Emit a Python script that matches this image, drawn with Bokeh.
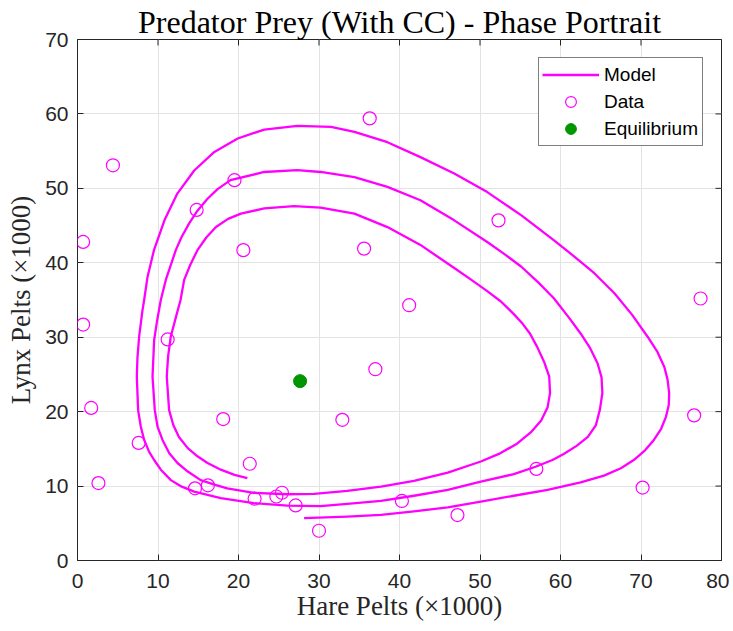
import math
from bokeh.plotting import figure
from bokeh.models import Range1d, FixedTicker, Legend, LegendItem
from bokeh.embed import file_html
from bokeh.resources import INLINE

# ---- data ----
hare = [30.0, 47.2, 70.2, 77.4, 36.3, 20.6, 18.1, 21.4, 22.0, 25.4, 27.1, 40.3, 57.0,
        76.6, 52.3, 19.5, 11.2, 7.6, 14.6, 16.2, 24.7, 0.7, 0.7, 1.7, 2.6, 4.4, 14.8,
        35.6, 32.9, 37.0, 41.2]
lynx = [4.0, 6.1, 9.8, 35.2, 59.4, 41.7, 19.0, 13.0, 8.3, 9.1, 7.4, 8.0, 12.3,
        19.5, 45.7, 51.1, 29.7, 15.8, 9.7, 10.1, 8.6, 42.8, 31.7, 20.5, 10.4, 53.1, 47.1,
        41.9, 18.9, 25.7, 34.3]

eq_hare = [27.65]
eq_lynx = [24.1]

# model trajectory (inward spiral), (hare, lynx) points
model_points = [
    # first (outer) turn
    (28.15, 5.7), (33.5, 5.9), (37.7, 6.13), (41.8, 6.6), (46.0, 7.15), (50.1, 7.9),
    (54.2, 8.7), (58.4, 9.5), (62.5, 10.5), (65.4, 11.4), (67.5, 12.4), (69.1, 13.5),
    (70.5, 14.8), (71.6, 16.2), (72.5, 17.7), (73.1, 19.3), (73.45, 20.9), (73.5, 22.5),
    (73.3, 24.3), (72.9, 26.0), (72.0, 28.1), (70.8, 30.1), (68.9, 33.0), (66.7, 35.9),
    (64.2, 38.6), (61.3, 41.2), (59.2, 43.0), (55.1, 46.4), (50.9, 49.5), (46.8, 52.0),
    (42.6, 54.2), (38.5, 56.2), (34.4, 57.6), (31.5, 58.25), (27.3, 58.4), (23.2, 57.9),
    (19.9, 56.7), (17.0, 54.9), (14.5, 52.4), (12.4, 49.3), (10.8, 45.7), (9.5, 41.7),
    (8.7, 38.1), (8.28, 35.0), (8.07, 33.6), (7.66, 30.1), (7.45, 27.3), (7.37, 24.7),
    (7.53, 20.2), (7.86, 18.0), (8.28, 16.2), (8.9, 14.6), (9.52, 13.5), (10.35, 12.2),
    (11.6, 10.8), (12.8, 10.0), (14.5, 9.26), (17.8, 8.37), (21.9, 7.7), (26.1, 7.38),
    (30.2, 7.3), (33.5, 7.6), (37.7, 8.0), (41.8, 8.7), (46.0, 9.5), (50.1, 10.6),
    (54.2, 11.6),
    # second (middle) turn
    (56.9, 12.6), (59.0, 13.5), (60.4, 14.3), (62.0, 15.4), (63.4, 16.6), (64.4, 18.2),
    (64.9, 20.3), (65.2, 22.5), (65.1, 24.6), (64.6, 26.5), (63.7, 28.5), (62.5, 30.5),
    (61.0, 32.7), (59.2, 35.2), (57.2, 37.4), (55.1, 39.5), (53.0, 41.2), (50.9, 42.8),
    (46.8, 45.7), (42.6, 48.4), (38.5, 50.2), (34.4, 51.5), (30.2, 52.2), (27.3, 52.45),
    (23.2, 52.2), (19.0, 51.1), (17.4, 49.9), (16.15, 48.6), (14.9, 47.0), (13.87, 45.3),
    (12.9, 43.4), (12.21, 41.7), (10.97, 37.7), (10.35, 35.0), (9.9, 32.3), (9.52, 29.6),
    (9.32, 24.7), (9.6, 20.2), (9.94, 18.0), (10.56, 16.2), (11.4, 14.4), (12.42, 13.1),
    (13.7, 11.95), (15.3, 10.8), (17.0, 10.2), (18.6, 9.7), (21.9, 9.1), (26.1, 8.9),
    (29.4, 8.95), (33.5, 9.35), (37.7, 9.93), (41.8, 10.7), (46.0, 11.8),
    # third (inner) turn
    (50.1, 13.3), (52.5, 14.4), (54.6, 15.7), (56.3, 17.2), (57.6, 18.8), (58.4, 20.6),
    (58.7, 22.5), (58.6, 24.7), (58.0, 26.6), (57.1, 28.7), (56.2, 30.5), (55.3, 31.8),
    (54.2, 33.1), (52.6, 34.8), (50.9, 36.2), (48.8, 37.8), (46.8, 39.3), (42.6, 42.4),
    (38.5, 44.8), (34.4, 46.6), (30.2, 47.4), (26.9, 47.6), (23.2, 47.3), (20.3, 46.6),
    (18.7, 45.9), (17.2, 44.8), (16.0, 43.4), (14.9, 41.7), (14.0, 39.7), (13.25, 37.7),
    (12.8, 35.0), (12.3, 33.0), (11.59, 30.1), (11.25, 27.4), (11.09, 24.7), (11.38, 20.2),
    (11.9, 18.2), (12.6, 16.6), (13.7, 15.1), (14.9, 14.0), (16.15, 13.1), (17.8, 12.2),
    (19.5, 11.5), (21.1, 11.06),
]
model_hare = [pt[0] for pt in model_points]
model_lynx = [pt[1] for pt in model_points]

x_ticks = [0, 10, 20, 30, 40, 50, 60, 70, 80]
y_ticks = [0, 10, 20, 30, 40, 50, 60, 70]
x_lim = (0, 80)
y_lim = (0, 70)

MAG = "#FF00FF"
GREEN = "#009600"
AXC = "#262626"
SERIF = "Liberation Serif"
SANS = "Liberation Sans"

p = figure(width=729, height=623, output_backend="svg", toolbar_location=None,
           x_range=Range1d(*x_lim), y_range=Range1d(*y_lim),
           min_border_left=77, min_border_right=8, min_border_top=39, min_border_bottom=62)
p.background_fill_color = "white"
p.border_fill_color = "white"
p.outline_line_color = AXC
p.outline_line_width = 1

p.title.text = "Predator Prey (With CC) - Phase Portrait"
p.title.align = "center"
p.title.text_font = SERIF
p.title.text_font_size = "32px"
p.title.text_font_style = "normal"
p.title.text_color = "black"
p.title.standoff = 0

for ax, tk in ((p.xaxis[0], x_ticks), (p.yaxis[0], y_ticks)):
    ax.ticker = FixedTicker(ticks=tk)
    ax.axis_line_color = None
    ax.major_tick_in = 6
    ax.major_tick_out = 0
    ax.major_tick_line_color = AXC
    ax.minor_tick_line_color = None
    ax.major_label_text_font = SANS
    ax.major_label_text_font_size = "21px"
    ax.major_label_text_color = AXC
    ax.axis_label_text_font = SERIF
    ax.axis_label_text_font_size = "27px"
    ax.axis_label_text_font_style = "normal"
    ax.axis_label_text_color = AXC

p.xaxis.axis_label = "Hare Pelts (×1000)"
p.yaxis.axis_label = "Lynx Pelts (×1000)"
p.xaxis.major_label_standoff = 13
p.yaxis.major_label_standoff = 9
p.xaxis.axis_label_standoff = 0
p.yaxis.axis_label_standoff = 6

p.xgrid.ticker = FixedTicker(ticks=x_ticks)
p.ygrid.ticker = FixedTicker(ticks=y_ticks)
p.xgrid.grid_line_color = "#e3e3e3"
p.ygrid.grid_line_color = "#e3e3e3"

# inward ticks on the top and right edges of the box (half of each dash is clipped)
p.scatter(x_ticks, [y_lim[1]] * len(x_ticks), marker="dash", angle=math.pi / 2,
          size=12, line_color=AXC, line_width=1)
p.scatter([x_lim[1]] * len(y_ticks), y_ticks, marker="dash",
          size=12, line_color=AXC, line_width=1)

line_r = p.line(model_hare, model_lynx, line_color=MAG, line_width=2.3, line_join="round")
data_r = p.scatter(hare, lynx, marker="circle", size=13, fill_color=None,
                   line_color=MAG, line_width=1.2)
eq_r = p.scatter(eq_hare, eq_lynx, marker="circle", size=13, fill_color=GREEN,
                 line_color=GREEN)

legend = Legend(items=[LegendItem(label="Model", renderers=[line_r]),
                       LegendItem(label="Data", renderers=[data_r]),
                       LegendItem(label="Equilibrium", renderers=[eq_r])],
                location="top_right", margin=18, padding=3, spacing=0,
                glyph_width=57, glyph_height=27, label_height=20, label_width=95,
                label_standoff=5, label_text_font=SANS, label_text_font_size="19px",
                label_text_color="black", border_line_color="black", border_line_width=1,
                background_fill_color="white", background_fill_alpha=1)
p.add_layout(legend)

open("out.html", "w").write(file_html(p, INLINE))
